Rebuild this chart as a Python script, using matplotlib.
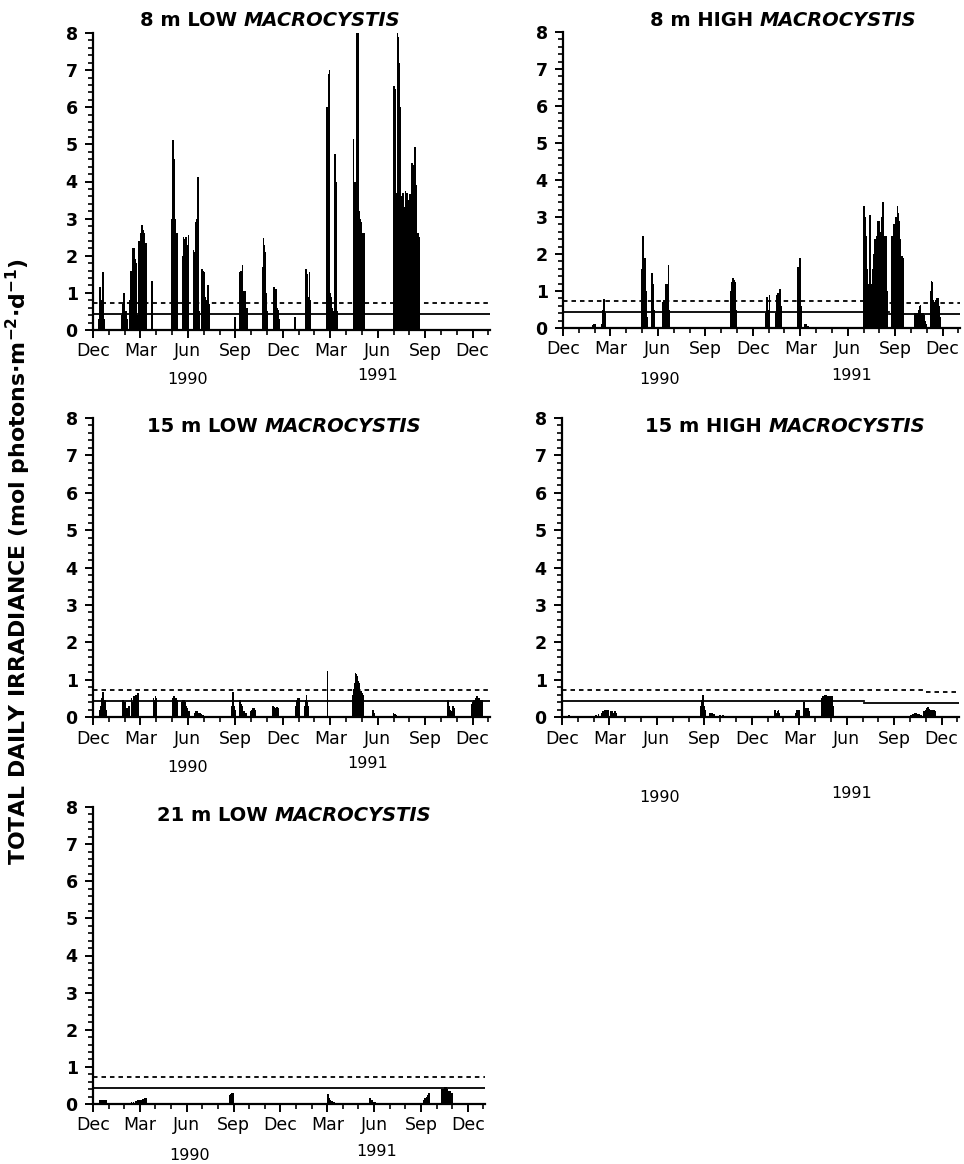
import matplotlib
matplotlib.use("Agg")
import matplotlib.pyplot as plt
import numpy as np

plt.rcParams['font.family'] = ['DejaVu Sans']
plt.rcParams['mathtext.fontset'] = 'dejavusans'
plt.rcParams['mathtext.default'] = 'bf'

# x positions are months since 1 Dec 1989
month_labels = ['Dec', 'Mar', 'Jun', 'Sep', 'Dec', 'Mar', 'Jun', 'Sep', 'Dec']
month_ticks = [0, 3, 6, 9, 12, 15, 18, 21, 24]
year_labels = ['1990', '1991']

titles_prefix = ['8 m LOW ', '8 m HIGH ', '15 m LOW ', '15 m HIGH ', '21 m LOW ']
title_genus = 'MACROCYSTIS'

# ---- 8 m LOW ----
p1_month = [0.38, 0.42, 0.48, 0.55, 0.62, 0.67, 0.72,
            1.85, 1.92, 1.97, 2.03, 2.10, 2.15,
            2.34, 2.42, 2.51, 2.56, 2.60, 2.66, 2.72, 2.76,
            2.90, 2.97, 3.03, 3.12, 3.18, 3.23, 3.30, 3.35,
            3.71,
            4.98, 5.04, 5.10, 5.15, 5.22, 5.30,
            5.66, 5.72, 5.80, 5.88, 5.95, 6.03,
            6.35, 6.41, 6.48, 6.56, 6.62, 6.67, 6.73,
            6.88, 6.94, 7.00, 7.05, 7.09, 7.15,
            7.26, 7.34,
            8.99,
            9.30, 9.38, 9.45, 9.55, 9.63, 9.72,
            10.72, 10.78, 10.82, 10.88, 10.95, 11.03,
            11.41, 11.48, 11.55, 11.62, 11.70, 11.77,
            12.78,
            13.46, 13.52, 13.58, 13.63, 13.68, 13.73,
            14.79, 14.83, 14.90, 14.96, 15.02, 15.08, 15.15, 15.22, 15.32, 15.38, 15.42,
            16.47, 16.54, 16.60, 16.64, 16.70, 16.75, 16.80, 16.85, 16.90, 16.96, 17.02, 17.08, 17.15,
            19.00, 19.05, 19.10, 19.15, 19.20, 19.25, 19.30, 19.36, 19.43, 19.50, 19.58, 19.65, 19.75,
            19.80, 19.85, 19.90, 19.96, 20.01, 20.06, 20.12, 20.17, 20.22, 20.27, 20.33, 20.38, 20.45,
            20.53, 20.59]
p1_value = [0.3, 1.17, 0.5, 0.8, 1.55, 0.8, 0.3,
            0.4, 0.7, 0.99, 0.3, 0.5, 0.3,
            0.8, 1.6, 2.2, 1.7, 2.2, 1.9, 1.8, 0.4,
            2.4, 2.4, 2.6, 2.83, 2.7, 2.6, 2.35, 2.35,
            1.32,
            3.0, 5.12, 4.6, 4.2, 3.0, 2.6,
            2.0, 2.5, 2.45, 2.5, 2.3, 2.55,
            2.15, 2.1, 2.9, 3.0, 4.13, 3.2, 0.5,
            1.65, 1.6, 1.55, 1.3, 0.9, 0.8,
            1.2, 0.7,
            0.35,
            1.55, 1.6, 1.75, 1.05, 1.05, 0.6,
            1.7, 2.47, 2.3, 2.1, 1.0, 0.5,
            1.15, 1.15, 1.1, 0.6, 0.55, 0.3,
            0.35,
            1.64, 1.5, 0.9, 0.7, 1.55, 0.8,
            6.0, 5.0, 6.9, 7.0, 1.0, 0.9, 0.6, 0.5, 4.74, 4.0, 0.5,
            5.15, 4.0, 4.0, 3.0, 8.0, 8.0, 3.2, 3.1, 3.0, 2.9, 2.3, 2.6, 2.6,
            2.5, 6.58, 6.5, 3.7, 3.5, 8.0, 7.9, 7.2, 6.0, 3.6, 3.7, 3.3, 3.75,
            3.7, 3.7, 3.5, 2.4, 3.0, 3.65, 3.6, 4.5, 4.45, 4.4, 4.0, 4.94, 3.9,
            2.6, 2.5]

# ---- 8 m HIGH ----
p2_month = [1.87, 1.95, 2.03,
            2.45, 2.55, 2.60, 2.65,
            4.96, 5.01, 5.06, 5.12, 5.17, 5.22, 5.27, 5.32,
            5.60, 5.65, 5.70, 5.75,
            6.30, 6.37, 6.45, 6.52, 6.58, 6.67, 6.72,
            10.63, 10.69, 10.75, 10.82, 10.88, 10.93,
            12.80, 12.87, 12.93, 13.00, 13.06,
            13.45, 13.50, 13.57, 13.65, 13.72, 13.77,
            14.88, 14.95, 15.00, 15.05,
            15.30, 15.40, 15.50,
            19.02, 19.06, 19.12, 19.18, 19.24, 19.30, 19.36, 19.42, 19.48, 19.54, 19.60, 19.66, 19.72,
            19.78, 19.85, 19.92, 19.98, 20.04, 20.10, 20.16, 20.21, 20.26, 20.31, 20.38, 20.44, 20.48,
            20.78, 20.84, 20.90, 20.96, 21.02, 21.08, 21.15, 21.20, 21.26, 21.32, 21.38, 21.44, 21.50,
            22.25, 22.32, 22.40, 22.47, 22.55, 22.60, 22.67, 22.74, 22.82, 22.90, 22.98,
            23.25, 23.30, 23.36, 23.42, 23.48, 23.55, 23.62, 23.70, 23.76, 23.82]
p2_value = [0.08, 0.12, 0.1,
            0.1, 0.5, 0.78, 0.4,
            1.6, 1.3, 2.5, 1.9, 1.9, 1.0, 1.0, 0.3,
            0.7, 1.49, 1.2, 0.5,
            0.7, 0.75, 0.75, 1.2, 1.2, 1.69, 0.5,
            1.0, 1.25, 1.35, 1.3, 1.25, 0.5,
            0.4, 0.85, 0.85, 0.5, 0.9,
            0.4, 0.9, 0.95, 0.95, 1.05, 0.6,
            1.65, 1.7, 1.89, 0.6,
            0.12, 0.1, 0.05,
            3.3, 3.2, 3.0, 2.5, 1.6, 1.1, 1.2, 3.05, 1.2, 1.1, 1.6, 2.0, 2.4,
            2.4, 2.5, 2.9, 2.9, 2.4, 2.6, 3.0, 3.4, 2.5, 2.5, 2.3, 2.5, 1.0,
            2.5, 2.4, 2.8, 2.8, 3.0, 3.0, 3.3, 3.1, 2.9, 2.4, 1.9, 1.95, 1.9,
            0.4, 0.4, 0.4, 0.5, 0.6, 0.63, 0.4, 0.4, 0.35, 0.2, 0.1,
            1.0, 1.28, 1.25, 0.75, 0.7, 0.75, 0.8, 0.8, 0.6, 0.3]

# ---- 15 m LOW ----
p3_month = [0.42, 0.50, 0.58, 0.63, 0.68, 0.74, 0.80, 0.85,
            1.90, 1.97, 2.05, 2.12, 2.20, 2.28,
            2.43, 2.50, 2.57, 2.64, 2.72, 2.79, 2.85,
            3.82, 3.88, 3.95, 4.01,
            5.07, 5.13, 5.20, 5.28, 5.35,
            5.63, 5.70, 5.76, 5.83, 5.90, 5.97, 6.05,
            6.44, 6.52, 6.60, 6.68, 6.75, 6.85, 6.95,
            8.76, 8.82, 8.86, 8.92, 8.97,
            9.30, 9.37, 9.45, 9.55, 9.65,
            9.95, 10.02, 10.10, 10.18, 10.25,
            11.39, 11.46, 11.54, 11.62, 11.70,
            12.85, 12.91, 12.98, 13.04,
            13.40, 13.46, 13.50, 13.56, 13.61,
            14.83,
            16.41, 16.47, 16.54, 16.60, 16.66, 16.73, 16.79, 16.85, 16.90, 16.96, 17.02, 17.08,
            17.68, 17.74, 17.80,
            19.00, 19.08, 19.15,
            22.45, 22.52, 22.60, 22.68, 22.75, 22.85,
            23.95, 24.02, 24.10, 24.18, 24.26, 24.34, 24.42, 24.50, 24.58]
p3_value = [0.2, 0.3, 0.5, 0.68, 0.45, 0.45, 0.2, 0.15,
            0.45, 0.4, 0.4, 0.25, 0.25, 0.3,
            0.5, 0.4, 0.55, 0.55, 0.6, 0.6, 0.65,
            0.5, 0.45, 0.55, 0.5,
            0.5, 0.55, 0.5, 0.5, 0.45,
            0.4, 0.45, 0.45, 0.4, 0.3, 0.25, 0.15,
            0.12, 0.15, 0.15, 0.12, 0.12, 0.08, 0.05,
            0.3, 0.5, 0.66, 0.3, 0.2,
            0.45, 0.35, 0.3, 0.15, 0.1,
            0.15, 0.2, 0.25, 0.25, 0.2,
            0.3, 0.28, 0.25, 0.28, 0.25,
            0.3, 0.45, 0.5, 0.5,
            0.3, 0.45, 0.6, 0.4, 0.3,
            1.24,
            0.6, 0.75, 0.9, 1.19, 1.15, 1.1, 0.95, 0.9, 0.7, 0.7, 0.65, 0.6,
            0.2, 0.18, 0.1,
            0.1, 0.08, 0.05,
            0.45, 0.3, 0.2, 0.15, 0.3, 0.25,
            0.35, 0.4, 0.45, 0.5, 0.55, 0.5, 0.5, 0.45, 0.45]

# ---- 15 m HIGH ----
p4_month = [0.42, 0.55,
            1.98, 2.15, 2.30,
            2.50, 2.60, 2.68, 2.77, 2.85, 2.92,
            3.12, 3.20, 3.28, 3.36, 3.43,
            8.81, 8.86, 8.90, 8.96, 9.02,
            9.37, 9.50, 9.62,
            10.00, 10.20, 10.40,
            13.44, 13.48, 13.56, 13.64, 13.68, 13.75,
            14.79, 14.85, 14.92, 15.00,
            15.31, 15.38, 15.46, 15.54, 15.62,
            16.45, 16.52, 16.59, 16.66, 16.73, 16.80, 16.87, 16.94, 17.01, 17.08, 17.15,
            22.08, 22.20, 22.30, 22.40, 22.50, 22.60, 22.70,
            22.91, 22.98, 23.05, 23.12, 23.20, 23.27, 23.33, 23.40, 23.48, 23.55, 23.62]
p4_value = [0.05, 0.04,
            0.04, 0.06, 0.08,
            0.1, 0.15, 0.18, 0.2, 0.2, 0.18,
            0.15, 0.15, 0.12, 0.15, 0.12,
            0.3, 0.45, 0.6, 0.3, 0.2,
            0.12, 0.1, 0.08,
            0.06, 0.05, 0.04,
            0.1, 0.2, 0.12, 0.15, 0.2, 0.1,
            0.1, 0.2, 0.15, 0.2,
            0.4, 0.25, 0.25, 0.25, 0.15,
            0.5, 0.55, 0.58, 0.6, 0.58, 0.55, 0.55, 0.55, 0.52, 0.55, 0.3,
            0.05, 0.08, 0.1, 0.1, 0.08, 0.08, 0.05,
            0.15, 0.2, 0.25, 0.28, 0.22, 0.2, 0.2, 0.18, 0.18, 0.18, 0.15]

# ---- 21 m LOW ----
p5_month = [0.43, 0.55, 0.64, 0.73, 0.81,
            2.46, 2.60, 2.75, 2.90, 3.00, 3.10, 3.21, 3.30, 3.38,
            8.78, 8.84, 8.89, 8.95, 8.99,
            15.03, 15.10, 15.20, 15.30, 15.42,
            17.73, 17.80, 17.88, 17.98, 18.09,
            21.20, 21.28, 21.37, 21.45, 21.52,
            22.33, 22.40, 22.47, 22.53, 22.59, 22.66, 22.73, 22.80, 22.88, 22.95, 23.02]
p5_value = [0.1, 0.12, 0.12, 0.1, 0.1,
            0.05, 0.06, 0.08, 0.1, 0.12, 0.12, 0.14, 0.15, 0.15,
            0.25, 0.28, 0.3, 0.3, 0.28,
            0.28, 0.15, 0.1, 0.08, 0.05,
            0.15, 0.12, 0.1, 0.06, 0.05,
            0.1, 0.15, 0.2, 0.25, 0.3,
            0.4, 0.35, 0.4, 0.45, 0.46, 0.4, 0.35, 0.35, 0.35, 0.3, 0.3]

# threshold lines (mol photons m-2 d-1): dashed and solid, as (start month, end month, level)
left_dashed = [(0, 26.0, 0.72)]
left_solid = [(0, 26.0, 0.42)]
p2_dashed = [(0, 19.0, 0.72), (19.0, 26.0, 0.67)]
p2_solid = [(0, 20.6, 0.42), (20.6, 26.0, 0.37)]
p4_dashed = [(0, 23.0, 0.72), (23.0, 26.0, 0.68)]
p4_solid = [(0, 19.1, 0.42), (19.1, 26.0, 0.38)]

W, H = 964, 1164
fig = plt.figure(figsize=(W / 100, H / 100), dpi=100)


def px_axes(left, top8, bottom0, width=397):
    return fig.add_axes([left / W, 1 - bottom0 / H, width / W, (bottom0 - top8) / H])


panels = [
    (px_axes(93, 33, 330), p1_month, p1_value, left_dashed, left_solid),
    (px_axes(563, 32, 328), p2_month, p2_value, p2_dashed, p2_solid),
    (px_axes(93, 418, 717), p3_month, p3_value, left_dashed, left_solid),
    (px_axes(562, 418, 717), p4_month, p4_value, p4_dashed, p4_solid),
    (px_axes(93, 807, 1104, 392), p5_month, p5_value, left_dashed, left_solid),
]

xmax = 25.1
for ax, mx, vals, dsegs, ssegs in panels:
    ax.bar(mx, vals, width=0.11, color='black', linewidth=0, align='center')
    for a, b, lv in dsegs:
        ax.plot([a, min(b, xmax)], [lv, lv], color='black', lw=1.3, ls=(0, (2.5, 2.2)))
    for a, b, lv in ssegs:
        ax.plot([a, min(b, xmax)], [lv, lv], color='black', lw=1.3)
    ax.set_xlim(0, xmax)
    ax.set_ylim(0, 8)
    for s in ['top', 'right']:
        ax.spines[s].set_visible(False)
    for s in ['left', 'bottom']:
        ax.spines[s].set_linewidth(1.6)
    ax.set_xticks(month_ticks)
    ax.set_xticklabels(month_labels, fontsize=12.5)
    ax.set_xticks(np.arange(0, 26, 1), minor=True)
    ax.set_yticks(range(0, 9))
    ax.set_yticklabels([str(i) for i in range(0, 9)], fontsize=12.5, fontweight='bold')
    ax.set_yticks(np.arange(0, 8.01, 0.2), minor=True)
    ax.tick_params(axis='both', which='major', direction='out', length=6, width=1.4)
    ax.tick_params(axis='both', which='minor', direction='out', length=3.5, width=1.2)
    ax.tick_params(axis='x', which='major', pad=3)
    ax.tick_params(axis='y', which='major', pad=5)
    ax.patch.set_alpha(0)


def fig_text(xp, yp, s, **kw):
    return fig.text(xp / W, 1 - yp / H, s, **kw)


# titles (upright part followed by italic genus)
title_pos = [(140, 26), (650, 26), (147, 432), (645, 432), (157, 821)]
pairs = []
for (xp, yp), pre in zip(title_pos, titles_prefix):
    t1 = fig_text(xp, yp, pre, fontsize=14, fontweight='bold', ha='left', va='baseline')
    t2 = fig_text(xp, yp, title_genus, fontsize=14, fontweight='bold', style='italic',
                  ha='left', va='baseline')
    pairs.append((t1, t2))
fig.canvas.draw()
renderer = fig.canvas.get_renderer()
for t1, t2 in pairs:
    bb = t1.get_window_extent(renderer)
    t2.set_position((bb.x1 / fig.bbox.width, t1.get_position()[1]))

# year labels
year_pos = [
    [(188, 380), (378, 376)],
    [(660, 380), (852, 376)],
    [(188, 767), (368, 764)],
    [(660, 797), (852, 793)],
    [(190, 1155), (377, 1152)],
]
for pair in year_pos:
    for (xp, yp), lab in zip(pair, year_labels):
        fig_text(xp, yp, lab, fontsize=11.5, ha='center', va='center')

fig_text(18, 562, r'TOTAL DAILY IRRADIANCE (mol photons$\cdot$m$^{-2}$$\cdot$d$^{-1}$)',
         fontsize=15.8, fontweight='bold', rotation=90, ha='center', va='center')

fig.savefig('out.png', dpi=100)
